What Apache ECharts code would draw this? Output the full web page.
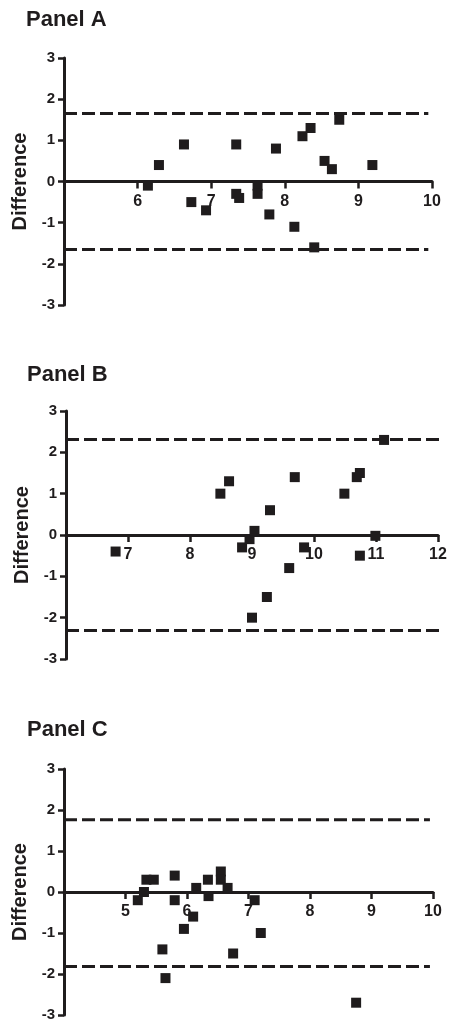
<!DOCTYPE html>
<html>
<head>
<meta charset="utf-8">
<script src="https://cdn.jsdelivr.net/npm/echarts@6/dist/echarts.min.js"></script>
<style>
html,body{margin:0;padding:0;background:#fff;}
#chart{width:451px;height:1024px;}
</style>
</head>
<body>
<div id="chart"></div>
<script>
// ---- Data ----
const panelTitles = ['Panel A', 'Panel B', 'Panel C'];
const yAxisName = 'Difference';

const xA = [6.14, 6.29, 6.63, 6.73, 6.93, 7.34, 7.34, 7.38, 7.63, 7.63, 7.79, 7.88, 8.13, 8.24, 8.35, 8.40, 8.54, 8.64, 8.74, 9.19];
const yA = [-0.1, 0.4, 0.9, -0.5, -0.7, 0.9, -0.3, -0.4, -0.1, -0.3, -0.8, 0.8, -1.1, 1.1, 1.3, -1.6, 0.5, 0.3, 1.5, 0.4];

const xB = [6.80, 8.49, 8.63, 8.84, 8.96, 9.04, 9.00, 9.24, 9.29, 9.60, 9.69, 9.84, 10.49, 10.69, 10.74, 10.74, 10.99, 11.13];
const yB = [-0.4, 1.0, 1.3, -0.3, -0.1, 0.1, -2.0, -1.5, 0.6, -0.8, 1.4, -0.3, 1.0, 1.4, 1.5, -0.5, -0.02, 2.3];

const xC = [5.20, 5.30, 5.34, 5.46, 5.60, 5.65, 5.80, 5.80, 5.95, 6.10, 6.15, 6.34, 6.35, 6.55, 6.55, 6.66, 6.75, 7.10, 7.20, 8.75];
const yC = [-0.2, 0.0, 0.3, 0.3, -1.4, -2.1, 0.4, -0.2, -0.9, -0.6, 0.1, 0.3, -0.1, 0.5, 0.3, 0.1, -1.5, -0.2, -1.0, -2.7];

// limits of agreement [upper, lower]
const limitsA = [1.65, -1.65];
const limitsB = [2.31, -2.31];
const limitsC = [1.76, -1.82];

// x-axis ranges
const xRangeA = [5, 10];
const xRangeB = [6, 12];
const xRangeC = [4, 10];
const yRange = [-3, 3];

// extent of dashed lines in x data units [start, endUpper, endLower]
const dashA = [5, 9.95, 9.95];
const dashB = [6, 12.19, 12.08];
const dashC = [4, 9.95, 9.95];

// ---- Chart ----
const FONT = '"Liberation Sans", Arial, Helvetica, sans-serif';
const INK = '#1f1c1d';

const panels = [
  {x: xA, y: yA, lim: limitsA, xr: xRangeA, dash: dashA, grid: {left: 64, top: 58, width: 368, height: 247}, titleTop: 9, titleLeft: 26},
  {x: xB, y: yB, lim: limitsB, xr: xRangeB, dash: dashB, grid: {left: 66, top: 411, width: 372, height: 248}, titleTop: 364, titleLeft: 27},
  {x: xC, y: yC, lim: limitsC, xr: xRangeC, dash: dashC, grid: {left: 64, top: 769, width: 369, height: 246}, titleTop: 719, titleLeft: 27}
];

const series = [];
panels.forEach((p, i) => {
  const dashStyle = {color: INK, width: 3, type: [13, 5], opacity: 1};
  series.push({
    type: 'line', xAxisIndex: i, yAxisIndex: i, clip: false, silent: true,
    symbol: 'none', lineStyle: dashStyle,
    data: [[p.dash[0], p.lim[0]], [p.dash[1], p.lim[0]]]
  });
  series.push({
    type: 'line', xAxisIndex: i, yAxisIndex: i, clip: false, silent: true,
    symbol: 'none', lineStyle: dashStyle,
    data: [[p.dash[0], p.lim[1]], [p.dash[2], p.lim[1]]]
  });
  series.push({
    type: 'scatter', xAxisIndex: i, yAxisIndex: i, clip: false,
    symbol: 'rect', symbolSize: 10,
    itemStyle: {color: INK, opacity: 1},
    data: p.x.map((v, k) => [v, p.y[k]])
  });
});

const option = {
  backgroundColor: '#fff',
  animation: false,
  title: panels.map((p, i) => ({
    text: panelTitles[i], left: p.titleLeft, top: p.titleTop, padding: 0,
    textStyle: {fontFamily: FONT, fontWeight: 'bold', fontSize: 22, color: INK}
  })),
  grid: panels.map(p => Object.assign({containLabel: false}, p.grid)),
  xAxis: panels.map((p, i) => ({
    type: 'value', gridIndex: i, min: p.xr[0], max: p.xr[1], interval: 1,
    position: 'bottom',
    // move the axis from the grid bottom up to y = 0
    offset: -p.grid.height * (0 - yRange[0]) / (yRange[1] - yRange[0]),
    splitLine: {show: false},
    axisLine: {show: true, onZero: false, lineStyle: {color: INK, width: 3}},
    axisTick: {show: true, inside: false, length: 7, lineStyle: {color: INK, width: 2.5}},
    axisLabel: {showMinLabel: false, margin: 12, fontFamily: FONT, fontWeight: 'bold', fontSize: 16, color: INK}
  })),
  yAxis: panels.map((p, i) => ({
    type: 'value', gridIndex: i, min: yRange[0], max: yRange[1], interval: 1,
    name: yAxisName, nameLocation: 'middle', nameRotate: 90, nameGap: 34,
    nameTextStyle: {fontFamily: FONT, fontWeight: 'bold', fontSize: 20, color: INK},
    splitLine: {show: false},
    axisLine: {show: true, onZero: false, lineStyle: {color: INK, width: 3}},
    axisTick: {show: true, inside: false, length: 6, lineStyle: {color: INK, width: 2.5}},
    axisLabel: {margin: 9, fontFamily: FONT, fontWeight: 'bold', fontSize: 15, color: INK}
  })),
  series: series
};

const chart = echarts.init(document.getElementById('chart'), null, {renderer: 'canvas'});
chart.setOption(option);
</script>
</body>
</html>
